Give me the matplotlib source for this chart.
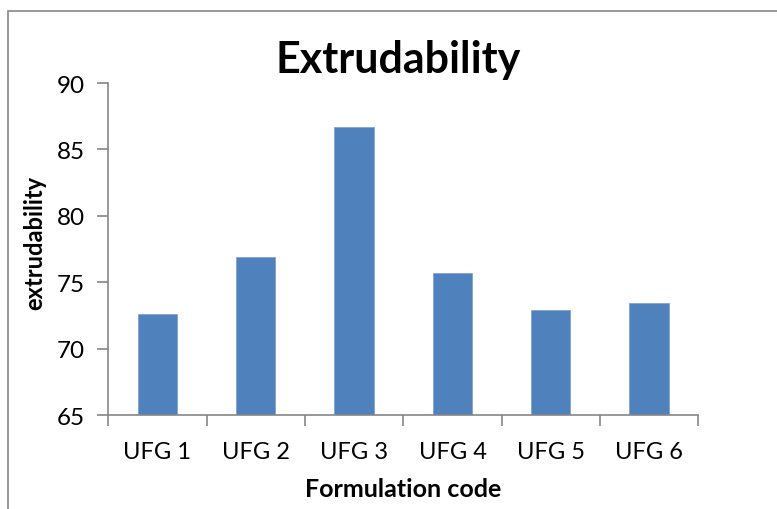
import matplotlib
matplotlib.use("Agg")
import matplotlib.pyplot as plt
from matplotlib.patches import Rectangle
import numpy as np

categories = ["UFG 1", "UFG 2", "UFG 3", "UFG 4", "UFG 5", "UFG 6"]
values = [72.63, 76.87, 86.66, 75.67, 72.88, 73.41]
yticks = [65, 70, 75, 80, 85, 90]

plt.rcParams['font.family'] = ['Lato', 'DejaVu Sans']

fig = plt.figure(figsize=(7.77, 5.10), dpi=100)
# outer chart frame (cropped on right and bottom)
fig.patches.append(Rectangle((8/777, -0.05), 1.2, 1 - 12/510 + 0.05, transform=fig.transFigure,
                             fill=False, edgecolor="#868686", linewidth=1.2))

ax = fig.add_axes([108.3/777, 1 - 416/510, 590/777, 332/510])
x = np.arange(len(categories))
ax.bar(x, values, width=0.4, color="#4F81BD", edgecolor="#7FA3D0", linewidth=0.6, zorder=2)
ax.set_ylim(65, 90)
ax.set_xlim(-0.5, len(categories) - 0.5)

gray = "#868686"
for s in ["top", "right"]:
    ax.spines[s].set_visible(False)
for s in ["left", "bottom"]:
    ax.spines[s].set_color(gray)
    ax.spines[s].set_linewidth(1.2)

ax.set_yticks(yticks)
ax.set_yticklabels([str(v) for v in yticks], fontsize=17.5)
ax.tick_params(axis="y", direction="out", length=8, width=1.2, color=gray, pad=9)

ax.set_xticks(np.arange(len(categories) + 1) - 0.5)
ax.set_xticklabels([])
ax.tick_params(axis="x", which="major", direction="out", length=8, width=1.2, color=gray)
ax.set_xticks(x, minor=True)
ax.set_xticklabels(categories, minor=True, fontsize=17)
ax.tick_params(axis="x", which="minor", length=0, pad=19)

fig.text(403/777, 1 - 490/510, "Formulation code", fontsize=18, fontweight="bold",
         ha="center", va="center")
fig.text(35/777, 1 - 243/510, "extrudability", fontsize=17, fontweight="bold",
         ha="center", va="center", rotation=90)
fig.text(398.5/777, 1 - 60/510, "Extrudability", fontsize=31, fontweight="bold",
         ha="center", va="center")

fig.savefig("out.png", dpi=100)
